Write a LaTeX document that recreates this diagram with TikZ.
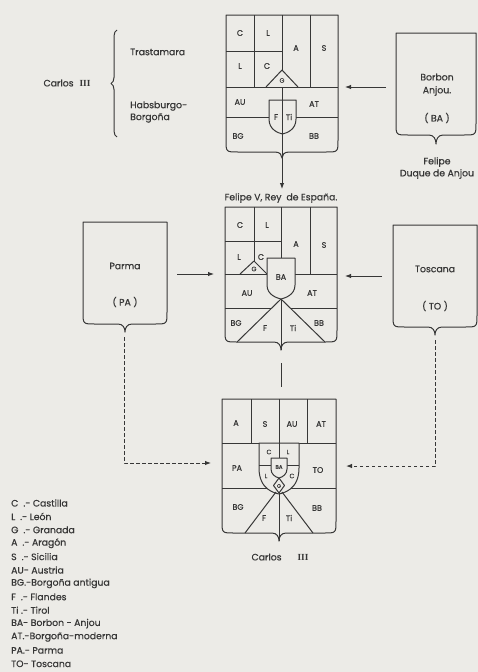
\documentclass[tikz,border=0pt]{standalone}
\usepackage{fontspec}
\setmainfont{Poppins}[FakeBold=0.6]
\newfontfamily\romnum{Liberation Serif}
\usetikzlibrary{arrows.meta,decorations.pathreplacing}
\definecolor{bgc}{RGB}{236,235,231}
\definecolor{ink}{RGB}{55,55,55}
\tikzset{
  sl/.style={draw=ink,line width=1pt,line join=round},
  arr/.style={sl,-{Latex[length=6pt,width=4.5pt]}},
  darr/.style={sl,dashed,dash pattern=on 3.5pt off 2.5pt,-{Latex[length=6pt,width=4.5pt]}},
  lab/.style={text=ink,font=\fontsize{8}{9}\selectfont,inner sep=0pt},
  tiny/.style={text=ink,font=\fontsize{6.3}{7}\selectfont,inner sep=0pt},
  txt/.style={text=ink,font=\fontsize{9.3}{11}\selectfont,inner sep=0pt},
  leg/.style={text=ink,font=\fontsize{9.3}{11}\selectfont,inner sep=0pt,anchor=west},
}
% L R T B cusp
\newcommand\shieldoutline[5]{%
  \draw[sl] (#1,#3) -- (#2,#3) -- (#2,#4-12) .. controls (#2,#4) .. (#2-12,#4)
   -- ({(#1+#2)/2+7},#4) .. controls ({(#1+#2)/2+2},#4) and ({(#1+#2)/2},{#4+#5/2}) .. ({(#1+#2)/2},{#4+#5})
   .. controls ({(#1+#2)/2},{#4+#5/2}) and ({(#1+#2)/2-2},#4) .. ({(#1+#2)/2-7},#4)
   -- (#1+12,#4) .. controls (#1,#4) .. (#1,#4-12) -- cycle;}
% L R T S P
\newcommand\smallshield[5]{%
  \filldraw[sl,fill=bgc] (#1,#3) -- (#2,#3) -- (#2,#4) .. controls (#2,{#5-4}) and ({(#1+#2)/2+4},{#5-1}) .. ({(#1+#2)/2},#5)
   .. controls ({(#1+#2)/2-4},{#5-1}) and (#1,{#5-4}) .. (#1,#4) -- cycle;}
\begin{document}
\begin{tikzpicture}[x=1pt,y=-1pt]
\fill[bgc] (0,0) rectangle (478,672);
\useasboundingbox (0,0) rectangle (478,672);

% ---------- Carlos III brace ----------
\node[txt] (c3a) at (67,83) {Carlos\hspace{6pt}{\romnum\bfseries III}};
\draw[sl,decorate,decoration={brace,amplitude=6pt}] (117,137) -- (117,30);
\node[txt,anchor=west] (tra) at (130,52) {Trastamara};
\node[txt,anchor=west] (hab1) at (130,106) {Habsburgo-};
\node[txt,anchor=west] (hab2) at (130,118) {Borgoña};

% ---------- Top shield ----------
\draw[sl] (226,117) -- (338,117);
\draw[sl] (254,15) -- (254,87);
\draw[sl] (282,15) -- (282,70);
\draw[sl] (310,15) -- (310,87);
\draw[sl] (226,51) -- (282,51);
\draw[sl] (226,87) -- (338,87);
\draw[sl] (266,87) -- (282,70) -- (298,87);
\smallshield{269}{296}{100}{119}{134}
\draw[sl] (282,87) -- (282,158);
\shieldoutline{226}{338}{15}{152}{6}
\node[lab] (t-c1) at (240,33) {C};
\node[lab] (t-l1) at (268,33) {L};
\node[lab] (t-l2) at (240,66) {L};
\node[lab] (t-c2) at (267,66) {C};
\node[lab] (t-a) at (296,48) {A};
\node[lab] (t-s) at (324,48) {S};
\node[tiny] (t-g) at (282,80.5) {G};
\node[lab] (t-au) at (240,102) {AU};
\node[lab] (t-at) at (314,104) {AT};
\node[lab] (t-f) at (276,117) {F};
\node[lab] (t-ti) at (289,117) {Ti};
\node[lab] (t-bg) at (238,136) {BG};
\node[lab] (t-bb) at (314,136) {BB};
\coordinate (t-tip) at (282,158);

% ---------- Borbon Anjou ----------
\shieldoutline{396}{476}{33}{135}{9}
\node[txt] (ba) at (437,77) {Borbon};
\node[txt] (baj) at (437,91) {Anjou.};
\node[txt] (ba2) at (437,118) {( BA )};
\node[txt] (fel) at (437,162) {Felipe};
\node[txt] (duq) at (437,174) {Duque de Anjou};
\coordinate (ba-w) at (386,87);
\coordinate (t-e) at (345,87);
\draw[arr] (ba-w) -- (t-e);

% ---------- Felipe V label ----------
\node[txt] (fv) at (281,198) {Felipe V,\ Rey\ \ de España.};
\draw[arr] (t-tip) -- (282,189);

% ---------- Middle shield ----------
\draw[sl] (254,207) -- (254,261);
\draw[sl] (281,207) -- (281,258);
\draw[sl] (310,207) -- (310,274);
\draw[sl] (225,241) -- (281,241);
\draw[sl] (240,274) -- (254,261) -- (267,274);
\draw[sl] (225,274) -- (337,274);
\draw[sl] (225,308) -- (337,308);
\fill[bgc] (281,299) -- (237,342) -- (325,342) -- cycle;
\smallshield{267}{295}{258}{285}{299}
\draw[sl] (237,342) -- (281,299) -- (325,342);
\draw[sl] (281,299) -- (281,350);
\shieldoutline{225}{337}{207}{342}{8}
\node[lab] (m-c1) at (240,225) {C};
\node[lab] (m-l1) at (267,225) {L};
\node[lab] (m-l2) at (239,257) {L};
\node[lab] (m-c2) at (261,257) {C};
\node[tiny] (m-g) at (254,269) {G};
\node[lab] (m-a) at (296,244) {A};
\node[lab] (m-s) at (324,245) {S};
\node[lab] (m-ba) at (281,277) {BA};
\node[lab] (m-au) at (247,293) {AU};
\node[lab] (m-at) at (312,293) {AT};
\node[lab] (m-bg) at (236,323) {BG};
\node[lab] (m-f) at (265,328) {F};
\node[lab] (m-ti) at (293,328) {Ti};
\node[lab] (m-bb) at (319,323) {BB};
\coordinate (m-w) at (214,274);
\coordinate (m-e) at (345,276);
\coordinate (m-l1c) at (281,363);
\coordinate (m-l2c) at (281,387);
\draw[sl] (m-l1c) -- (m-l2c);

% ---------- Parma ----------
\shieldoutline{83}{167}{222}{324}{8}
\node[txt] (pa) at (125,266) {Parma};
\node[txt] (pa2) at (125,302) {( PA )};
\coordinate (pa-e) at (177,274);
\draw[arr] (pa-e) -- (m-w);

% ---------- Toscana ----------
\shieldoutline{393}{477}{225}{327}{8}
\node[txt] (to) at (435,269) {Toscana};
\node[txt] (to2) at (435,306) {( TO )};
\coordinate (to-w) at (382,276);
\draw[arr] (to-w) -- (m-e);

% ---------- Bottom shield ----------
\draw[sl] (251,399) -- (251,443);
\draw[sl] (307,399) -- (307,443);
\draw[sl] (279,399) -- (279,443);
\draw[sl] (222,443) -- (336,443);
\draw[sl] (222,488) -- (336,488);
\smallshield{259}{299}{443}{468}{494}
\draw[sl] (279,443) -- (279,458);
\draw[sl] (259,465) -- (299,465);
\smallshield{271}{287}{458}{469}{478}
\filldraw[sl,fill=bgc] (279,478) -- (284.5,485.5) -- (279,493) -- (273.5,485.5) -- cycle;
\draw[sl] (276,492) -- (245,533);
\draw[sl] (282,492) -- (313,533);
\draw[sl] (279,493) -- (279,541);
\shieldoutline{222}{336}{399}{533}{8}
\node[lab] (b-a) at (236,423) {A};
\node[lab] (b-s) at (265,424) {S};
\node[lab] (b-au) at (292,424) {AU};
\node[lab] (b-at) at (321,424) {AT};
\node[lab] (b-pa) at (237,468) {PA};
\node[lab] (b-to) at (318,470) {TO};
\node[tiny] (b-c1) at (269,452) {C};
\node[tiny] (b-l1) at (288,452) {L};
\node[tiny,font=\fontsize{5.5}{6}\selectfont] (b-ba) at (279,467) {BA};
\node[tiny] (b-l2) at (266,476) {L};
\node[tiny] (b-c2) at (292,476) {C};
\node[tiny,font=\fontsize{5}{6}\selectfont] (b-g) at (279,486) {G};
\node[lab] (b-bg) at (238,507) {BG};
\node[lab] (b-f) at (264,518) {F};
\node[lab] (b-ti) at (289,518) {Ti};
\node[lab] (b-bb) at (317,508) {BB};
\node[txt] (c3b) at (280,557) {Carlos\hspace{16pt}{\romnum\bfseries III}};
\coordinate (b-w) at (211,463);
\coordinate (b-e) at (346,466);

% ---------- dashed connectors ----------
\coordinate (pa-s) at (124,337);
\coordinate (pa-k) at (124,463);
\coordinate (to-s) at (435,340);
\coordinate (to-k) at (435,466);
\draw[darr] (pa-s) -- (pa-k) -- (b-w);
\draw[darr] (to-s) -- (to-k) -- (b-e);

% ---------- legend ----------
\node[leg] (lg1) at (11,503) {C\ \ .- Castilla};
\node[leg] (lg2) at (11,516.4) {L\ \ .- León};
\node[leg] (lg3) at (11,529.8) {G\ \ .- Granada};
\node[leg] (lg4) at (11,543.2) {A\ \ .- Aragón};
\node[leg] (lg5) at (11,556.6) {S\ \ .- Sicilia};
\node[leg] (lg6) at (11,570) {AU- Austria};
\node[leg] (lg7) at (11,583.4) {BG.-Borgoña antigua};
\node[leg] (lg8) at (11,596.8) {F\ \ .- Flandes};
\node[leg] (lg9) at (11,610.2) {Ti .- Tirol};
\node[leg] (lg10) at (11,623.6) {BA- Borbon - Anjou};
\node[leg] (lg11) at (11,637) {AT.-Borgoña-moderna};
\node[leg] (lg12) at (11,650.4) {PA.- Parma};
\node[leg] (lg13) at (11,663.8) {TO- Toscana};
\end{tikzpicture}
\end{document}
